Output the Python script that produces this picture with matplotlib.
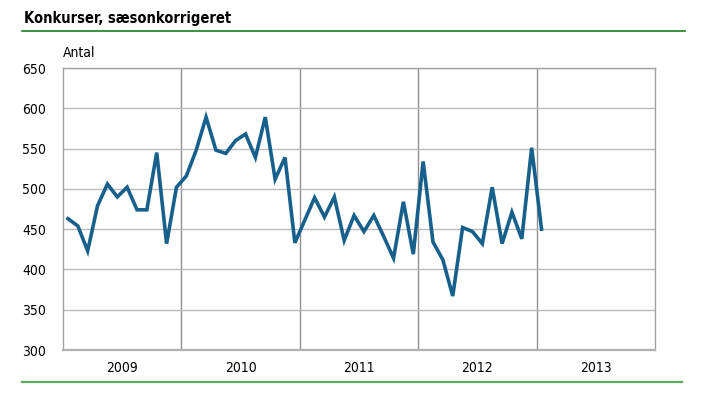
import matplotlib
matplotlib.use("Agg")
import matplotlib.pyplot as plt
from matplotlib.lines import Line2D
import numpy as np

plt.rcParams['font.family'] = ['DejaVu Sans']
plt.rcParams['font.stretch'] = 'condensed'

# Monthly bankruptcies, seasonally adjusted, Jan 2009 - Jan 2013
values = [463, 454, 423, 479, 506, 490, 502, 474, 474, 545, 432, 502,
          516, 548, 589, 548, 544, 560, 568, 539, 589, 512, 539, 433,
          461, 489, 465, 490, 436, 467, 447, 467, 441, 414, 484, 419,
          534, 434, 412, 367, 452, 447, 432, 502, 432, 471, 438, 551,
          450]
years = ['2009', '2010', '2011', '2012', '2013']
yticks = [300, 350, 400, 450, 500, 550, 600, 650]

months = np.arange(len(values)) + 0.5

fig = plt.figure(figsize=(7.09, 3.96), dpi=100)
ax = fig.add_axes([63 / 709, 1 - 350 / 396, (655 - 63) / 709, (350 - 68) / 396])

ax.plot(months, values, color='#17608c', linewidth=2.6, solid_joinstyle='miter', zorder=3)

ax.set_xlim(0, 12 * len(years))
ax.set_ylim(300, 650)
ax.set_yticks(yticks)
ax.set_xticks([12 * i for i in range(1, len(years))])
ax.set_xticks([12 * i + 6 for i in range(len(years))], minor=True)
ax.set_xticklabels([])
ax.set_xticklabels(years, minor=True)
ax.tick_params(axis='x', which='both', length=0, pad=8, labelsize=10)
ax.tick_params(axis='y', length=0, pad=12, labelsize=10)

ax.grid(axis='y', color='#bbbbbb', linewidth=1.0)
ax.grid(axis='x', which='major', color='#909090', linewidth=1.0)
for s in ax.spines.values():
    s.set_color('#a0a0a0')
    s.set_linewidth(1.0)
ax.spines['bottom'].set_color('#b0b0b0')
ax.spines['bottom'].set_linewidth(1.6)

fig.text(24 / 709, 1 - 18 / 396, 'Konkurser, sæsonkorrigeret', fontsize=10.5,
         fontweight='bold', ha='left', va='center')
fig.text(63 / 709, 1 - 53 / 396, 'Antal', fontsize=10, ha='left', va='center')

fig.add_artist(Line2D([22 / 709, 685 / 709], [1 - 31 / 396] * 2, color='#1a821a', linewidth=1.2))
fig.add_artist(Line2D([22 / 709, 682 / 709], [1 - 382 / 396] * 2, color='#5aad5a', linewidth=1.6))

fig.savefig('out.png', dpi=100)
